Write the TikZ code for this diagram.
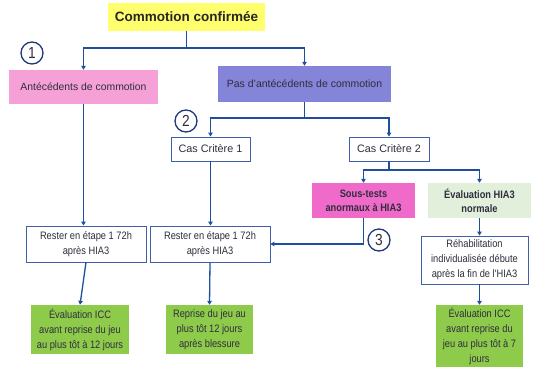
\documentclass[tikz,border=0pt]{standalone}
\usepackage{fontspec}
\setmainfont{Liberation Sans}
\newfontfamily\narrowfont{Liberation Sans}[FakeStretch=0.86]
\usepackage{tikz}
\usetikzlibrary{arrows.meta,calc,positioning}
\definecolor{CmArrow}{HTML}{1F4E9A}
\definecolor{CmFrame}{HTML}{3F5FA8}
\definecolor{CmRing}{HTML}{1F3A78}
\definecolor{CmText}{HTML}{2E2E3E}
\definecolor{CmYellow}{HTML}{FFFF6E}
\definecolor{CmPink}{HTML}{F5A0D6}
\definecolor{CmPurple}{HTML}{8484D8}
\definecolor{CmMagenta}{HTML}{F06AC9}
\definecolor{CmPale}{HTML}{E2EFDA}
\definecolor{CmGreen}{HTML}{8FCB4B}

\begin{document}
\begin{tikzpicture}[x=1pt,y=-1pt,
  box/.style={inner sep=0pt,align=center,text=CmText,font=\narrowfont\fontsize{10.8}{15}\selectfont},
  wbox/.style={box,draw=CmFrame,line width=.9pt,fill=white},
  arr/.style={CmArrow,line width=1.3pt,-{Triangle[length=4pt,width=4.5pt]}},
  lin/.style={CmArrow,line width=1.3pt},
  ring/.style={circle,draw=CmRing,line width=1.3pt,fill=white,inner sep=0pt,minimum size=22pt,font=\narrowfont\fontsize{16}{16}\selectfont,text=CmText}]
  \useasboundingbox (0,0) rectangle (533,370);
  % top
  \node[box,fill=CmYellow,minimum width=157pt,minimum height=28pt,font=\bfseries\fontsize{13.5}{15}\selectfont,text=black!85] (conf) at (186.5,17) {Commotion confirm\'ee};
  \node[box,fill=CmPink,minimum width=149pt,minimum height=34pt,font=\fontsize{10.4}{12}\selectfont] (ante) at (83.5,87) {Ant\'ec\'edents de commotion};
  \node[box,fill=CmPurple,minimum width=173pt,minimum height=36pt,font=\fontsize{10.5}{12}\selectfont] (pas) at (304.5,84) {Pas d'ant\'ec\'edents de commotion};
  % criteres
  \node[wbox,minimum width=79pt,minimum height=24pt,font=\fontsize{10.8}{12}\selectfont] (cas1) at (210.5,149) {Cas Crit\`ere 1};
  \node[wbox,minimum width=80pt,minimum height=24pt,font=\fontsize{10.8}{12}\selectfont] (cas2) at (389,149) {Cas Crit\`ere 2};
  \node[box,fill=CmMagenta,minimum width=103pt,minimum height=35pt,font=\narrowfont\bfseries\fontsize{10.8}{14}\selectfont] (sous) at (363.5,200.5) {Sous-tests\\anormaux \`a HIA3};
  \node[box,fill=CmPale,minimum width=103pt,minimum height=35pt,font=\narrowfont\bfseries\fontsize{10.8}{14}\selectfont] (norm) at (479.5,200.5) {\'Evaluation HIA3\\normale};
  % etapes
  \node[wbox,minimum width=120pt,minimum height=36pt] (rest1) at (86,244) {Rester en \'etape 1 72h\\apr\`es HIA3};
  \node[wbox,minimum width=120pt,minimum height=36pt] (rest2) at (210,244) {Rester en \'etape 1 72h\\apr\`es HIA3};
  \node[wbox,minimum width=107pt,minimum height=48pt] (rehab) at (474.5,260) {R\'ehabilitation\\individualis\'ee d\'ebute\\apr\`es la fin de l'HIA3};
  % reprise
  \node[box,fill=CmGreen,minimum width=98pt,minimum height=49pt] (icc1) at (80,329.5) {\'Evaluation ICC\\avant reprise du jeu\\au plus t\^ot \`a 12 jours};
  \node[box,fill=CmGreen,minimum width=87pt,minimum height=49pt] (repr) at (209.5,329.5) {Reprise du jeu au\\plus t\^ot 12 jours\\apr\`es blessure};
  \node[box,fill=CmGreen,minimum width=87pt,minimum height=62pt] (icc2) at (479.5,336) {\'Evaluation ICC\\avant reprise du\\jeu au plus t\^ot \`a 7\\jours};
  % connectors
  \coordinate (b1) at (186.5,48);
  \coordinate (b2) at (304.5,118);
  \coordinate (b3) at (389,170);
  \draw[lin] (conf.south) -- (b1);
  \draw[arr] (b1) -| (ante.north);
  \draw[arr] (b1) -| (pas.north);
  \draw[lin] (pas.south) -- (b2);
  \draw[arr] (b2) -| (cas1.north);
  \draw[arr] (b2) -| (cas2.north);
  \draw[lin] (cas2.south) -- (b3);
  \draw[arr] (b3) -| (sous.north);
  \draw[arr] (b3) -| (norm.north);
  \draw[arr] (ante.south) -- (ante.south |- rest1.north);
  \draw[arr] (cas1.south) -- (cas1.south |- rest2.north);
  \draw[arr] (sous.south) |- (rest2.east);
  \draw[arr] (norm.south) -- (norm.south |- rehab.north);
  \draw[arr] (rest1.south) -- (icc1.north);
  \draw[arr] (rest2.south) -- (repr.north);
  \draw[arr] (rehab.south -| icc2.north) -- (icc2.north);
  % numeros
  \node[ring] (n1) at (32,53) {1};
  \node[ring] (n2) at (186,121) {2};
  \node[ring] (n3) at (379,240) {3};
\end{tikzpicture}
\end{document}
